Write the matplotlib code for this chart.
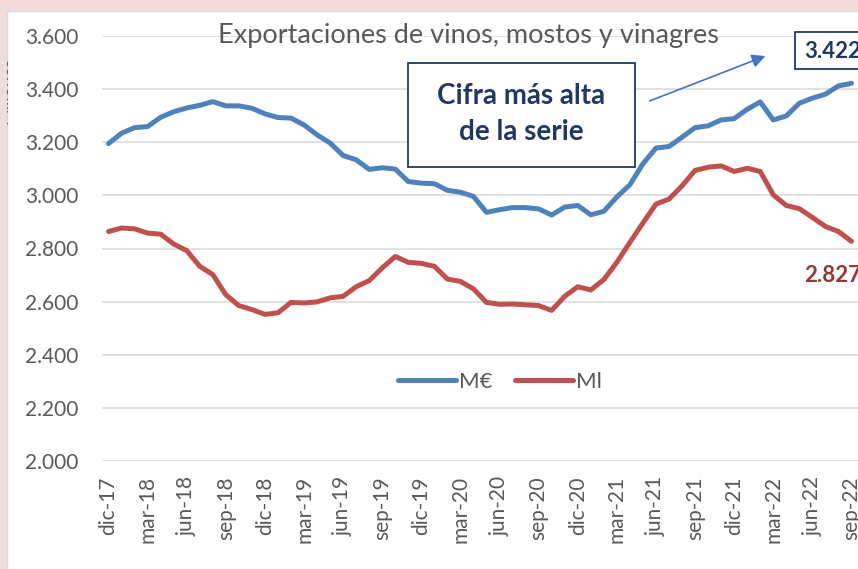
import matplotlib.pyplot as plt
import matplotlib.patches as patches
from matplotlib.ticker import FuncFormatter

# meses de dic-17 a sep-22
meses = ['ene', 'feb', 'mar', 'abr', 'may', 'jun', 'jul', 'ago', 'sep', 'oct', 'nov', 'dic']
periodos = ['dic-17'] + [f'{m}-{a}' for a in range(18, 23) for m in meses]
periodos = periodos[:58]

# valor en millones de euros
valor_me = [3195, 3234, 3255, 3259, 3294, 3315, 3329, 3339, 3353, 3337,
            3337, 3328, 3307, 3293, 3291, 3265, 3228, 3197, 3150, 3134,
            3098, 3104, 3099, 3052, 3046, 3044, 3019, 3012, 2996, 2936,
            2946, 2954, 2954, 2949, 2926, 2956, 2962, 2927, 2940, 2994,
            3040, 3119, 3178, 3184, 3219, 3255, 3262, 3284, 3289, 3324,
            3352, 3284, 3299, 3347, 3366, 3381, 3412, 3422]

# volumen en millones de litros
volumen_ml = [2864, 2877, 2874, 2858, 2854, 2817, 2792, 2733, 2702, 2626,
              2585, 2570, 2552, 2558, 2597, 2595, 2599, 2614, 2620, 2656,
              2679, 2727, 2770, 2748, 2744, 2733, 2685, 2676, 2648, 2597,
              2590, 2591, 2588, 2585, 2567, 2620, 2656, 2644, 2683, 2748,
              2823, 2896, 2967, 2986, 3036, 3094, 3106, 3111, 3090, 3102,
              3090, 3002, 2962, 2950, 2917, 2883, 2864, 2827]


def miles(v, pos=None):
    return f'{int(round(v)):,}'.replace(',', '.')


W, H = 858, 569
fig = plt.figure(figsize=(W / 100, H / 100), dpi=100)
fig.patch.set_facecolor('#f2dcdb')
plt.rcParams['font.family'] = ['Lato', 'DejaVu Sans']


def rect_px(x0, y0, x1, y1, **kw):
    # rectángulo en píxeles desde arriba a la izquierda
    r = patches.Rectangle((x0 / W, 1 - y1 / H), (x1 - x0) / W, (y1 - y0) / H,
                          transform=fig.transFigure, **kw)
    fig.patches.append(r)
    return r


caja = rect_px(7, 11, W + 5, H + 5, facecolor='white', edgecolor='#d9d9d9',
               lw=1, zorder=-5)

# etiqueta del eje recortada
t = fig.text(2 / W, 1 - 90 / H, 'Millones', rotation=90, fontsize=13,
             color='#595959', ha='center', va='center')
t.set_clip_path(caja)

ax = fig.add_axes([102 / W, 1 - 461 / H, 1 - 102 / W, (461 - 36) / H])
ax.set_facecolor('none')

x = list(range(len(periodos)))
ax.plot(x, valor_me, color='#4f81bd', lw=3.6, solid_capstyle='round',
        solid_joinstyle='round', label='M€', zorder=3)
ax.plot(x, volumen_ml, color='#c0504d', lw=3.6, solid_capstyle='round',
        solid_joinstyle='round', label='Ml', zorder=3)

ax.set_xlim(-0.5, len(periodos) - 0.5)
ax.set_ylim(2000, 3600)
ax.set_yticks(range(2000, 3601, 200))
ax.yaxis.set_major_formatter(FuncFormatter(miles))
ax.set_xticks(x[::3])
ax.set_xticklabels(periodos[::3], rotation=90)
ax.grid(axis='y', color='#d9d9d9', lw=1.1)
ax.set_axisbelow(True)
for s in ax.spines.values():
    s.set_visible(False)
ax.tick_params(length=0, colors='#595959', labelsize=15)
ax.tick_params(axis='y', pad=17)
ax.tick_params(axis='x', pad=11)

fig.text(468 / W, 1 - 36 / H, 'Exportaciones de vinos, mostos y vinagres',
         fontsize=19.5, color='#595959', ha='center', va='center')

ax.legend(loc='center', bbox_to_anchor=(500 / W, 1 - 382 / H),
          bbox_transform=fig.transFigure, ncol=2, frameon=False,
          fontsize=16, handlelength=2.6, handletextpad=0.15,
          columnspacing=1.0, labelcolor='#595959')

azul_osc = '#1f3864'
rect_px(408, 63, 635, 167, facecolor='white', edgecolor=azul_osc, lw=1.3, zorder=4)
fig.text(521 / W, 1 - 114 / H, 'Cifra más alta\nde la serie', fontsize=20,
         fontweight='bold', color=azul_osc, ha='center', va='center',
         linespacing=1.5, zorder=5)

ax.annotate('', xy=(768 / W, 1 - 55 / H), xytext=(647 / W, 1 - 102 / H),
            xycoords='figure fraction', textcoords='figure fraction',
            arrowprops=dict(arrowstyle='-|>', color='#4472c4', lw=1.2,
                            mutation_scale=20))

rect_px(795, 32, W + 20, 69, facecolor='white', edgecolor=azul_osc, lw=1.3, zorder=4)
fig.text(804 / W, 1 - 51 / H, miles(valor_me[-1]), fontsize=16,
         fontweight='bold', color=azul_osc, ha='left', va='center', zorder=5)
fig.text(804 / W, 1 - 275 / H, miles(volumen_ml[-1]), fontsize=16,
         fontweight='bold', color='#953735', ha='left', va='center')

fig.savefig('out.png', dpi=100, facecolor=fig.get_facecolor())
